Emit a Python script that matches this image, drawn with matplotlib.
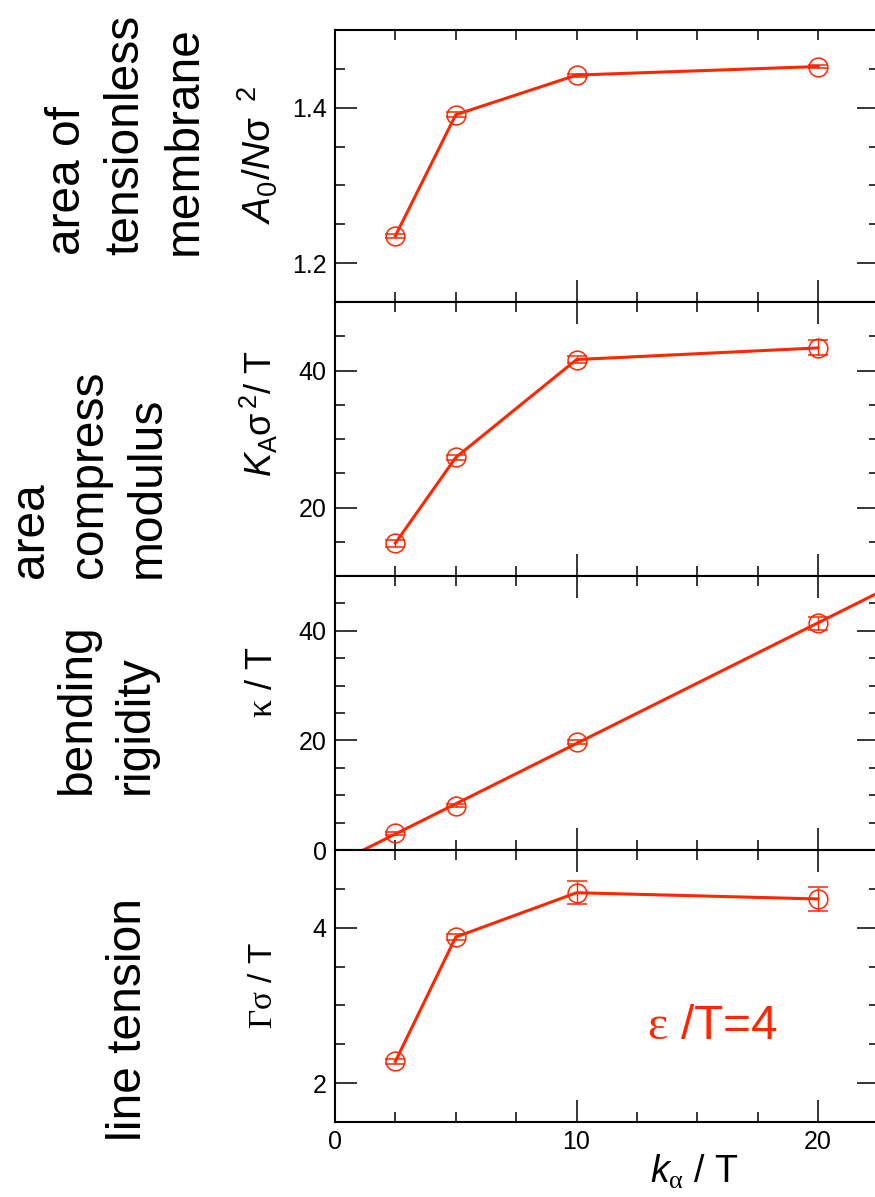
import numpy as np
import matplotlib
matplotlib.use("Agg")
import matplotlib.pyplot as plt
from matplotlib.ticker import MultipleLocator

plt.rcParams['font.family'] = ['Liberation Sans', 'DejaVu Sans']
plt.rcParams['mathtext.fontset'] = 'custom'
plt.rcParams['mathtext.rm'] = 'Liberation Sans'
plt.rcParams['mathtext.it'] = 'Liberation Sans:italic'
plt.rcParams['mathtext.cal'] = 'Liberation Serif'

red = '#ff2600'

# --- data ---
k_alpha = [2.5, 5, 10, 20]
area0 = [1.235, 1.391, 1.442, 1.453]
area0_err = [0.003, 0.003, 0.002, 0.002]
K_A = [14.8, 27.3, 41.6, 43.3]
K_A_err = [0.5, 0.4, 0.5, 1.1]
kappa = [3.05, 8.1, 19.7, 41.4]
kappa_err = [0.3, 0.3, 0.4, 1.2]
gamma = [2.28, 3.88, 4.45, 4.37]
gamma_err = [0.03, 0.04, 0.15, 0.15]

side_titles = ['area of\ntensionless\nmembrane', 'area\ncompress\nmodulus',
               'bending\nrigidity', 'line tension']
ylabels = [r'$A_0/N\mathrm{\sigma}^{\ \ 2}$', r'$K_\mathrm{A}\mathrm{\sigma}^{\,2}$/ T',
           r'$\mathcal{\kappa}$ / T', r'$\mathcal{\Gamma\sigma}$ / T']
ylabel_size = [28, 26, 26, 24]
ylims = [(1.15, 1.5), (10, 50), (0, 50), (1.5, 5)]
ymajor = [0.2, 20, 20, 2]
yminor = [0.05, 5, 5, 0.5]

# --- layout (pixels) ---
W, H = 875, 1197
x0, x1 = 335, 878.5
edges = [30, 302, 576, 850, 1122]

fig = plt.figure(figsize=(W / 100, H / 100), dpi=100)
axes = []
for i in range(4):
    top, bot = edges[i], edges[i + 1]
    ax = fig.add_axes([x0 / W, 1 - bot / H, (x1 - x0) / W, (bot - top) / H])
    ax.set_xlim(0, 22.5)
    ax.set_ylim(*ylims[i])
    ax.xaxis.set_major_locator(MultipleLocator(10))
    ax.xaxis.set_minor_locator(MultipleLocator(2.5))
    ax.yaxis.set_major_locator(MultipleLocator(ymajor[i]))
    ax.yaxis.set_minor_locator(MultipleLocator(yminor[i]))
    ax.tick_params(which='both', direction='in', top=True, right=True,
                   width=1.1, labelsize=18, pad=6)
    ax.tick_params(which='major', length=15.5)
    ax.tick_params(which='minor', length=7.5)
    if i < 3:
        ax.tick_params(axis='x', labelbottom=False)
    for s in ax.spines.values():
        s.set_linewidth(1.5)
    axes.append(ax)

# top axis of first panel has short ticks only
for t in axes[0].xaxis.get_major_ticks():
    t.tick2line.set_markersize(7.5)

eb = dict(color=red, marker='o', ms=13.5, mfc='none', mew=1.1,
          capsize=7, elinewidth=1.0, capthick=1.0)

axes[0].errorbar(k_alpha, area0, yerr=area0_err, lw=2.2, **eb)
axes[1].errorbar(k_alpha, K_A, yerr=K_A_err, lw=2.2, **eb)
axes[2].errorbar(k_alpha, kappa, yerr=kappa_err, ls='none', **eb)
axes[3].errorbar(k_alpha, gamma, yerr=gamma_err, lw=2.2, **eb)

# linear fit for bending rigidity
slope, icpt = np.polyfit(k_alpha, kappa, 1)
xs = np.array([-icpt / slope, 22.5])
axes[2].plot(xs, slope * xs + icpt, color=red, lw=2.2)

# y labels
label_y = [155, 414, 682, 986]
for i, ax in enumerate(axes):
    ax.set_ylabel(ylabels[i], fontsize=ylabel_size[i], va='baseline')
    top, bot = edges[i], edges[i + 1]
    ax.yaxis.set_label_coords((272 - x0) / (x1 - x0), (bot - label_y[i]) / (bot - top))

axes[3].set_xlabel(r'$k_{\mathcal{\alpha}}$ / T', fontsize=27, va='baseline')
axes[3].xaxis.set_label_coords((694 - x0) / (x1 - x0), -(1183 - 1122) / (1122 - 850))

axes[3].text(12.9, 2.57, r'$\mathcal{\varepsilon}$ /T=4', color=red, fontsize=34.5)

# big descriptive titles on the left
title_pos = [(207, 255), (170, 578), (158, 794), (151, 1141)]
for s, (tx, ty) in zip(side_titles, title_pos):
    fig.text(tx / W, 1 - ty / H, s, rotation=90, ha='right', va='bottom',
             multialignment='left', fontsize=34.5, linespacing=1.38)

fig.savefig('out.png', dpi=100)
